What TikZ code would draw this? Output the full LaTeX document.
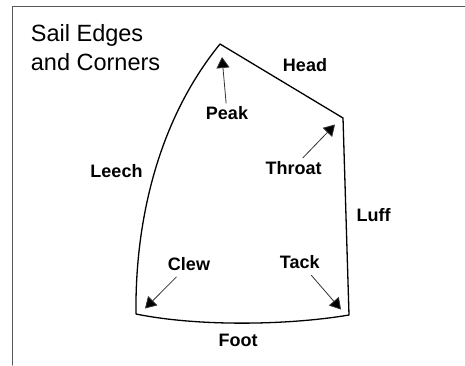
\documentclass[tikz,border=0pt]{standalone}
\usepackage{fontspec}
\setmainfont{Liberation Sans}
\usetikzlibrary{arrows.meta}
\tikzset{
  sail diagram/.style={x=1pt, y=-1pt, line cap=round, line join=round},
  sail edge/.style={draw=black, line width=1.3pt},
  sail title/.style={font=\fontsize{23.5}{29}\selectfont, align=left,
    anchor=base west, inner sep=0pt},
  sail label/.style={font=\fontsize{18}{20}\selectfont\bfseries,
    anchor=base, inner sep=3pt},
  sail arrow/.style={-{Triangle[length=11pt,width=13pt,fill=black]},
    draw=black!80, line width=0.8pt},
  sail frame/.style={draw=black!65, line width=1pt}
}
\begin{document}
\begin{tikzpicture}[sail diagram]
\useasboundingbox (0,0) rectangle (465,365);
\draw[sail frame] (12.5,365) -- (12.5,6) -- (465,6);
% corners of the sail
\coordinate (peak) at (220,44);
\coordinate (throat) at (343,118);
\coordinate (tack) at (349,315);
\coordinate (clew) at (136,314);
\draw[sail edge] (clew) .. controls (135,240) and (150,130) .. (peak)
  -- (throat) -- (tack) .. controls (290,325) and (200,327) .. cycle;
% arrow tips
\coordinate (peak tip) at (222,57);
\coordinate (throat tip) at (335,124.5);
\coordinate (clew tip) at (145,308.5);
\coordinate (tack tip) at (341,309.5);
\node[sail title] (title) at (30.7,70.7) {Sail Edges\\and Corners};
\node[sail label] (head lbl) at (305,71) {Head};
\node[sail label] (peak lbl) at (227,119.3) {Peak};
\node[sail label] (throat lbl) at (293.5,174) {Throat};
\node[sail label] (leech lbl) at (116.5,177.3) {Leech};
\node[sail label] (luff lbl) at (373.5,221.3) {Luff};
\node[sail label] (clew lbl) at (189,270.7) {Clew};
\node[sail label] (tack lbl) at (299.7,268.3) {Tack};
\node[sail label] (foot lbl) at (238,346.7) {Foot};
\draw[sail arrow] (peak lbl) -- (peak tip);
\draw[sail arrow] (throat lbl) -- (throat tip);
\draw[sail arrow,shorten <=4pt] (clew lbl) -- (clew tip);
\draw[sail arrow,shorten <=5pt] (tack lbl) -- (tack tip);
\end{tikzpicture}
\end{document}
